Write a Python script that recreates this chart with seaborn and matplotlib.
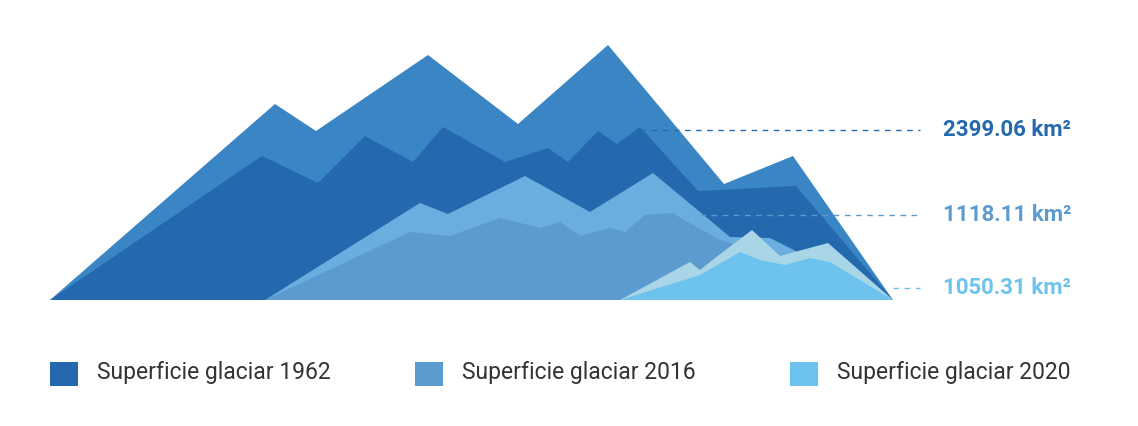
import numpy as np
import seaborn as sns
import matplotlib.pyplot as plt
from matplotlib.patches import Rectangle

# perfiles de montaña (x, altura sobre la base)
x_1962_back = [50, 275, 316, 428, 518, 608, 724, 793, 893]
h_1962_back = [0, 196, 169, 245, 176, 255, 116, 144, 0]
x_1962_front = [50, 262, 318, 365, 413, 443, 505, 548, 568, 598, 617, 640, 698, 796, 893]
h_1962_front = [0, 144, 117, 164, 138, 173, 138, 152, 138, 169, 156, 173, 109, 114, 0]

x_2016_back = [265, 420, 448, 525, 590, 653, 730, 770, 893]
h_2016_back = [0, 97, 86, 124, 88, 127, 63, 62, 0]
x_2016_front = [265, 410, 450, 500, 540, 560, 580, 610, 625, 645, 672, 720, 770, 893]
h_2016_front = [0, 68, 64, 82, 72, 78, 64, 72, 68, 85, 87, 60, 45, 0]

x_2020_back = [620, 690, 700, 715, 752, 780, 828, 893]
h_2020_back = [0, 38, 30, 42, 70, 44, 57, 0]
x_2020_front = [620, 700, 740, 760, 785, 810, 830, 893]
h_2020_front = [0, 25, 48, 40, 35, 42, 38, 0]

labels = ["Superficie glaciar 1962", "Superficie glaciar 2016", "Superficie glaciar 2020"]
areas = ["2399.06 km²", "1118.11 km²", "1050.31 km²"]
area_h = [170, 85, 12]
line_start = [640, 700, 893]

col_front = ["#2469ae", "#5b9bd0", "#6ec2ee"]
col_back = ["#3a86c4", "#6aaee0", "#a9d6e6"]

sns.set_theme(style="white")
plt.rcParams['font.family'] = ['Roboto', 'DejaVu Sans']

fig = plt.figure(figsize=(11.38, 4.26), dpi=100)
ax = fig.add_axes([0, 0, 1, 1])
ax.set_xlim(0, 1138)
ax.set_ylim(-126, 300)
ax.axis("off")

profiles = [
    (x_1962_back, h_1962_back, x_1962_front, h_1962_front),
    (x_2016_back, h_2016_back, x_2016_front, h_2016_front),
    (x_2020_back, h_2020_back, x_2020_front, h_2020_front),
]
for i, (xb, hb, xf, hf) in enumerate(profiles):
    ax.fill(xb, hb, color=col_back[i], lw=0, zorder=2 * i + 1)
    ax.fill(xf, hf, color=col_front[i], lw=0, zorder=2 * i + 2)

for i in range(3):
    ax.plot([line_start[i], 920], [area_h[i], area_h[i]], ls=(0, (4, 4)),
            color=col_front[i], lw=1, zorder=10)
    ax.text(943, area_h[i], areas[i], color=col_front[i], fontsize=16,
            fontweight="bold", va="center", ha="left")

leg_x = [50, 415, 790]
for i in range(3):
    ax.add_patch(Rectangle((leg_x[i], -86), 28, 24, color=col_front[i], lw=0))
    ax.text(leg_x[i] + 47, -73, labels[i], fontsize=16.5, color="#333333",
            va="center", ha="left")

fig.savefig("out.png", dpi=100)
